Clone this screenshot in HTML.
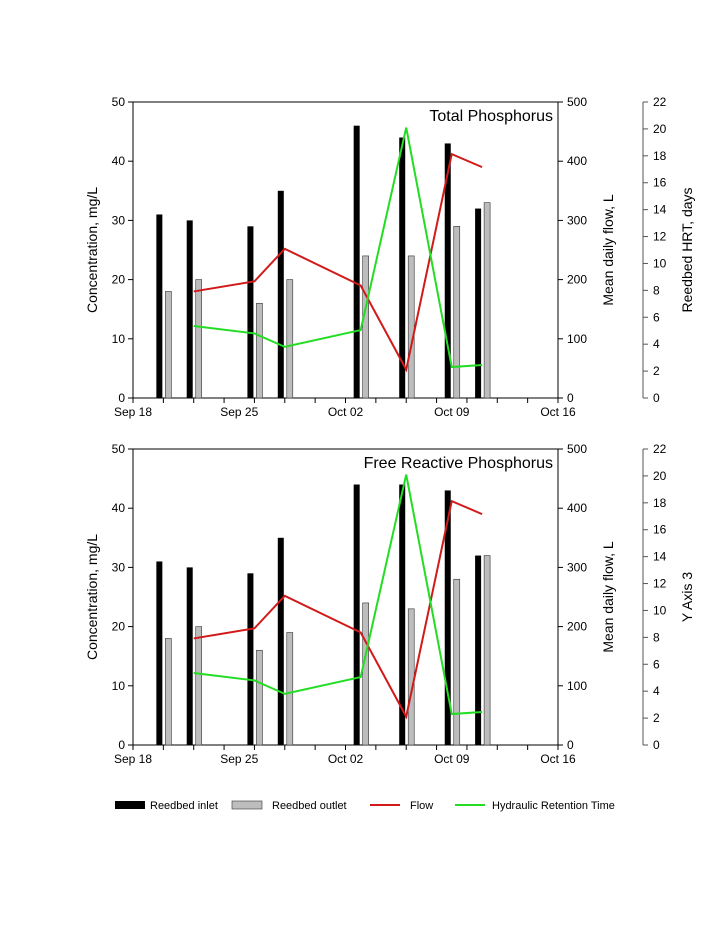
<!DOCTYPE html>
<html><head><meta charset="utf-8"><style>
body{margin:0;background:#fff}
svg text{font-family:"Liberation Sans",Arial,sans-serif;fill:#000}
</style></head><body>
<svg id="c" width="723" height="933" xmlns="http://www.w3.org/2000/svg"></svg>
<script>
const days=[2,4,8,10,15,18,21,23];
const lineDays=[4,8,10,15,18,21,23];
const inletTP=[31,30,29,35,46,44,43,32];
const outletTP=[18,20,16,20,24,24,29,33];
const inletFRP=[31,30,29,35,44,44,43,32];
const outletFRP=[18,20,16,19,24,23,28,32];
const flow=[180,197,252,190,48,412,390];
const hrt=[5.35,4.8,3.8,5.05,20.1,2.3,2.45];
const xLabels=["Sep 18","Sep 25","Oct 02","Oct 09","Oct 16"];
const NS="http://www.w3.org/2000/svg";
const svg=document.getElementById('c');
const X0=133,X1=558;
const xs=d=>X0+d*(X1-X0)/28;
function mk(t,a,p){const e=document.createElementNS(NS,t);for(const k in a)e.setAttribute(k,a[k]);(p||svg).appendChild(e);return e;}
function txt(s,x,y,a,p){const e=mk('text',Object.assign({'font-size':12,x:x,y:y},a),p);e.textContent=s;return e;}
function panel(top,title,inl,outl,y3title,name){
  const g=mk('g',{});
  
  
  const bot=top+296;
  const yl=v=>bot-v*296/50, yf=v=>bot-v*296/500, yh=v=>bot-v*296/22;
  mk('line',{x1:X0,y1:top,x2:X0,y2:bot,stroke:'#000'},g);
  mk('line',{x1:X0,y1:bot,x2:X1,y2:bot,stroke:'#000'},g);
  mk('line',{x1:X0,y1:top,x2:X1,y2:top,stroke:'#000'},g);
  mk('line',{x1:X1,y1:top,x2:X1,y2:bot,stroke:'#000'},g);
  for(let v=0;v<=50;v+=10){mk('line',{x1:X0-5,y1:yl(v),x2:X0,y2:yl(v),stroke:'#000'},g);
    const t=txt(String(v),X0-8,yl(v)+4,{'text-anchor':'end'},g);}
  for(let v=0;v<=500;v+=100){mk('line',{x1:X1,y1:yf(v),x2:X1+5,y2:yf(v),stroke:'#000'},g);
    const t=txt(String(v),X1+9,yf(v)+4,{},g);}
  mk('line',{x1:643,y1:top,x2:643,y2:bot,stroke:'#555'},g);
  for(let v=0;v<=22;v+=2){mk('line',{x1:643,y1:yh(v),x2:648,y2:yh(v),stroke:'#555'},g);
    const t=txt(String(v),653,yh(v)+4,{},g);}
  for(let d=0;d<=28;d+=2){mk('line',{x1:xs(d),y1:bot,x2:xs(d),y2:bot+5,stroke:'#000'},g);}
  xLabels.forEach((l,i)=>{const t=txt(l,xs(i*7),bot+18,{'text-anchor':'middle'},g);});
  const a1=txt('Concentration, mg/L',0,0,{'text-anchor':'middle','font-size':14,transform:`translate(97,${(top+bot)/2}) rotate(-90)`},g);
  
  const a2=txt('Mean daily flow, L',0,0,{'text-anchor':'middle','font-size':14,transform:`translate(613,${(top+bot)/2}) rotate(-90)`},g);
  
  const a3=txt(y3title,0,0,{'text-anchor':'middle','font-size':14,transform:`translate(692,${(top+bot)/2}) rotate(-90)`},g);
  
  const tt=txt(title,553,top+19,{'text-anchor':'end','font-size':16},g);
  
  days.forEach((d,i)=>{
    const b=mk('rect',{x:xs(d)-7,y:yl(inl[i]),width:6,height:bot-yl(inl[i]),fill:'#000'},g);
    
    const o=mk('rect',{x:xs(d)+2,y:yl(outl[i]),width:6,height:bot-yl(outl[i]),fill:'#bdbdbd',stroke:'#333','stroke-width':0.6},g);
    
  });
  const fl=mk('polyline',{points:lineDays.map((d,i)=>xs(d)+','+yf(flow[i])).join(' '),fill:'none',stroke:'#d11a1a','stroke-width':2},g);
  
  const hl=mk('polyline',{points:lineDays.map((d,i)=>xs(d)+','+yh(hrt[i])).join(' '),fill:'none',stroke:'#22dd22','stroke-width':2},g);
  
}
panel(102,'Total Phosphorus',inletTP,outletTP,'Reedbed HRT, days','total-phosphorus-panel');
panel(449,'Free Reactive Phosphorus',inletFRP,outletFRP,'Y Axis 3','free-reactive-phosphorus-panel');
const lg=mk('g',{});


const e1=mk('rect',{x:115,y:801,width:30,height:8,fill:'#000'},lg);

txt('Reedbed inlet',150,809,{'font-size':11},lg);
const e2=mk('rect',{x:232,y:801,width:30,height:8,fill:'#bdbdbd',stroke:'#333','stroke-width':0.6},lg);

txt('Reedbed outlet',272,809,{'font-size':11},lg);
const e3=mk('line',{x1:370,y1:805,x2:400,y2:805,stroke:'#d11a1a','stroke-width':2},lg);

txt('Flow',410,809,{'font-size':11},lg);
const e4=mk('line',{x1:455,y1:805,x2:485,y2:805,stroke:'#22dd22','stroke-width':2},lg);

txt('Hydraulic Retention Time',492,809,{'font-size':11},lg);
</script>
</body></html>
